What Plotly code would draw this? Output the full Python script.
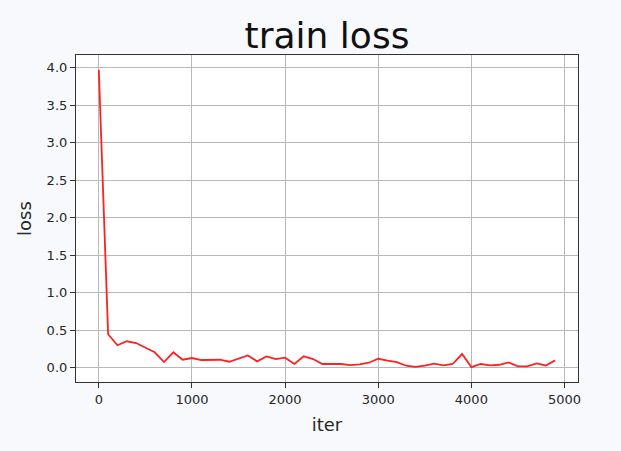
import plotly.graph_objects as go

iters = list(range(0, 5000, 100))
loss = [3.97, 0.447, 0.30, 0.353, 0.33, 0.264, 0.206, 0.076, 0.206, 0.107,
        0.13, 0.103, 0.107, 0.107, 0.08, 0.125, 0.165, 0.085, 0.152, 0.116,
        0.134, 0.05, 0.152, 0.116, 0.05, 0.05, 0.05, 0.036, 0.045, 0.067,
        0.12, 0.094, 0.076, 0.027, 0.013, 0.027, 0.054, 0.031, 0.05, 0.183,
        0.009, 0.05, 0.031, 0.04, 0.071, 0.018, 0.018, 0.058, 0.031, 0.098]

x_ticks = [0, 1000, 2000, 3000, 4000, 5000]
y_ticks = [0.0, 0.5, 1.0, 1.5, 2.0, 2.5, 3.0, 3.5, 4.0]
y_tick_labels = ["0.0", "0.5", "1.0", "1.5", "2.0", "2.5", "3.0", "3.5", "4.0"]

font = "DejaVu Sans"

fig = go.Figure()
fig.add_trace(go.Scatter(x=iters, y=loss, mode="lines",
                         line=dict(color="#ff2020", width=1.8),
                         showlegend=False, hoverinfo="skip"))

axis_common = dict(
    showline=True, linecolor="#333333", linewidth=1.2, mirror=True,
    showgrid=True, gridcolor="#b8b8b8", gridwidth=1,
    ticks="outside", ticklen=5, tickcolor="#333333", tickwidth=1,
    tickfont=dict(family=font, size=13, color="#262626"),
    zeroline=False,
)

fig.update_layout(
    width=621, height=451,
    margin=dict(l=76, r=43, t=55, b=69),
    paper_bgcolor="#f8f9fd", plot_bgcolor="#ffffff",
    title=dict(text="train loss", xref="paper", x=0.5, xanchor="center",
               yref="container", y=1 - 35 / 451, yanchor="middle",
               font=dict(family=font, size=36, color="#111111")),
    xaxis=dict(range=[-245, 5145], tickvals=x_ticks,
               ticktext=[str(v) for v in x_ticks],
               title=dict(text="iter", standoff=12,
                          font=dict(family=font, size=18, color="#262626")),
               **axis_common),
    yaxis=dict(range=[-0.19, 4.17], tickvals=y_ticks, ticktext=y_tick_labels,
               title=dict(text="loss", standoff=10,
                          font=dict(family=font, size=18, color="#262626")),
               **axis_common),
)

fig.write_html("out.html",
               config={"displayModeBar": False},
               post_script="document.body.style.margin='0px';"
                           "document.body.style.overflow='hidden';"
                           "document.body.style.background='#f8f9fd';")
